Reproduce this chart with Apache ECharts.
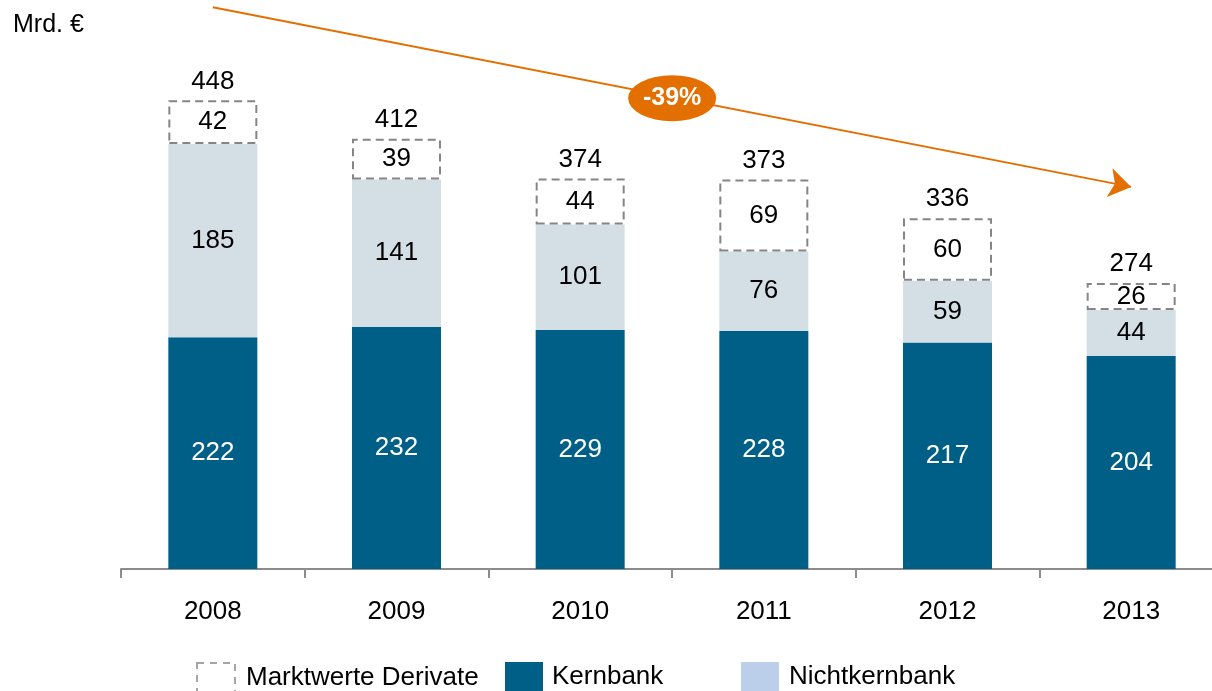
<!DOCTYPE html>
<html>
<head>
<meta charset="utf-8">
<title>Kernbank / Nichtkernbank</title>
<script src="https://cdn.jsdelivr.net/npm/echarts@6/dist/echarts.min.js"></script>
<style>
  html, body { margin: 0; padding: 0; background: #fff; overflow: hidden; }
  /* a bit wider than the window: the axis runs past the right edge */
  #chart { width: 1224px; height: 691px; }
</style>
</head>
<body>
<div id="chart"></div>
<script>
// data
var years = ['2008', '2009', '2010', '2011', '2012', '2013'];
var kernbank = [222, 232, 229, 228, 217, 204];
var nichtkernbank = [185, 141, 101, 76, 59, 44];
var derivate = [42, 39, 44, 69, 60, 26];
var totals = [448, 412, 374, 373, 336, 274];
var changeLabel = '-39%';

var font = "'Liberation Sans', Arial, sans-serif";
var orange = '#e36f00';

var chart = echarts.init(document.getElementById('chart'));

var option = {
    animation: false,
    textStyle: { fontFamily: font },
    title: {
        text: 'Mrd. €',
        left: 8,
        top: 8,
        textStyle: { fontFamily: font, fontSize: 25, fontWeight: 'normal', color: '#000' }
    },
    grid: { left: 121, right: 1, top: 0, bottom: 122 },
    legend: [
        {
            data: ['Marktwerte Derivate'],
            left: 196, top: 662, padding: 0,
            itemWidth: 38, itemHeight: 30,
            selectedMode: false,
            icon: 'rect',
            itemStyle: { color: '#fff', borderColor: '#a6a6a6', borderWidth: 2, borderType: [7, 6] },
            textStyle: { fontFamily: font, fontSize: 26, color: '#000', padding: [0, 0, 0, 6] }
        },
        {
            data: ['Kernbank'],
            left: 505, top: 662, padding: 0,
            itemWidth: 38, itemHeight: 30,
            selectedMode: false,
            icon: 'rect',
            textStyle: { fontFamily: font, fontSize: 26, color: '#000', padding: [0, 0, 0, 4] }
        },
        {
            data: [{ name: 'Nichtkernbank', itemStyle: { color: '#bccfea' } }],
            left: 741, top: 662, padding: 0,
            itemWidth: 38, itemHeight: 30,
            selectedMode: false,
            icon: 'rect',
            textStyle: { fontFamily: font, fontSize: 26, color: '#000', padding: [0, 0, 0, 5] }
        }
    ],
    xAxis: {
        type: 'category',
        data: years,
        axisLine: { lineStyle: { color: '#8c8c8c', width: 2 } },
        axisTick: { show: true, length: 9, lineStyle: { color: '#8c8c8c', width: 2 } },
        axisLabel: { margin: 30, fontFamily: font, fontSize: 26, color: '#000' }
    },
    yAxis: {
        type: 'value',
        show: false,
        min: 0,
        max: 545,
        splitLine: { show: false }
    },
    series: [
        {
            name: 'Kernbank',
            type: 'bar',
            stack: 'total',
            barWidth: 89,
            data: kernbank,
            itemStyle: { color: '#005f87' },
            label: { show: true, position: 'inside', fontFamily: font, fontSize: 26, color: '#fff' }
        },
        {
            name: 'Nichtkernbank',
            type: 'bar',
            stack: 'total',
            data: nichtkernbank,
            itemStyle: { color: '#d3dfe5' },
            label: { show: true, position: 'inside', fontFamily: font, fontSize: 26, color: '#000' }
        },
        {
            name: 'Marktwerte Derivate',
            type: 'bar',
            stack: 'total',
            data: derivate,
            itemStyle: { color: '#fff', borderColor: '#858585', borderWidth: 2, borderType: [8, 5] },
            label: { show: true, position: 'inside', fontFamily: font, fontSize: 26, color: '#000' },
            markLine: {
                silent: true,
                symbol: ['none', 'arrow'],
                symbolSize: 22,
                label: { show: false },
                lineStyle: { color: orange, width: 2, type: 'solid' },
                data: [[
                    { coord: ['2008', 538] },
                    { coord: ['2013', 366] }
                ]]
            },
            markPoint: {
                silent: true,
                data: [{
                    // halfway between 2010 and 2011
                    coord: ['2010', 451],
                    symbol: 'circle',
                    symbolSize: [88, 46],
                    symbolOffset: [92, 0],
                    itemStyle: { color: orange },
                    label: {
                        show: true,
                        formatter: changeLabel,
                        fontFamily: font,
                        fontSize: 25,
                        fontWeight: 'bold',
                        color: '#fff'
                    }
                }]
            }
        },
        {
            name: 'Summe',
            type: 'scatter',
            data: totals,
            symbolSize: 0,
            silent: true,
            itemStyle: { opacity: 1 },
            label: {
                show: true,
                position: 'top',
                distance: 6,
                fontFamily: font,
                fontSize: 26,
                color: '#000',
                opacity: 1
            }
        }
    ]
};

chart.setOption(option);
</script>
</body>
</html>
